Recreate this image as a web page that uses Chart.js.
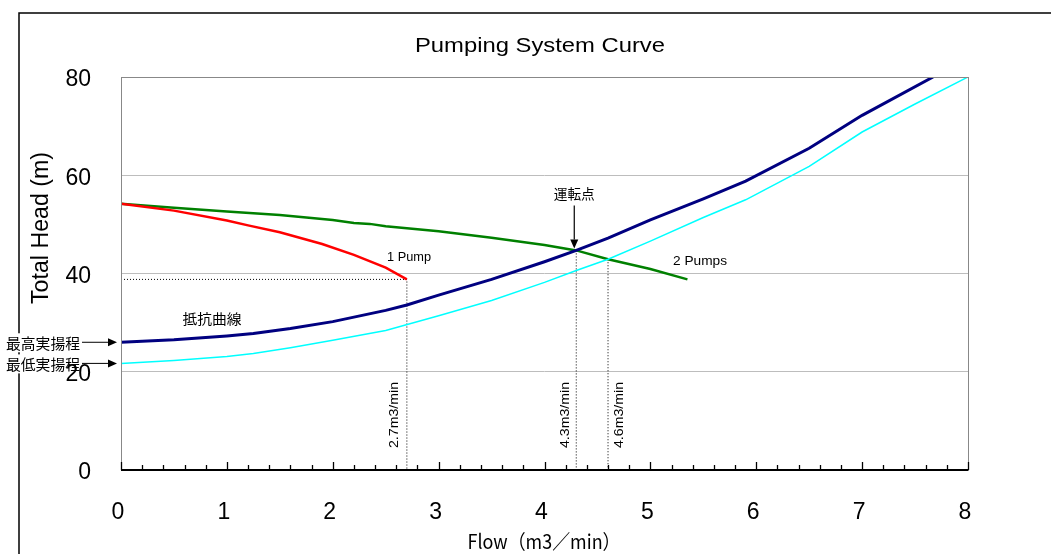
<!DOCTYPE html>
<html>
<head>
<meta charset="utf-8">
<script src="https://cdn.jsdelivr.net/npm/chart.js@4.4.1/dist/chart.umd.min.js"></script>
<style>
    html, body { margin: 0; padding: 0; background: #fff; }
    #wrap { width: 1051px; height: 554px; }
</style>
</head>
<body>
<div id="wrap"><canvas id="pumpChart" width="1051" height="554"></canvas></div>
<script>
// --- 1. DATA ---
// Pump curve, one pump running
const onePumpFlow = [0, 0.5, 1.0, 1.2, 1.5, 1.9, 2.2, 2.5, 2.7];
const onePumpHead = [54.2, 52.8, 50.8, 49.8, 48.4, 46.0, 43.8, 41.2, 38.8];

// Pump curve, two pumps in parallel
const twoPumpFlow = [0, 0.5, 1.0, 1.5, 2.0, 2.2, 2.35, 2.5, 3.0, 3.5, 4.0, 4.3, 4.6, 5.0, 5.35];
const twoPumpHead = [54.2, 53.4, 52.6, 51.9, 50.9, 50.3, 50.1, 49.6, 48.6, 47.3, 45.8, 44.7, 42.9, 40.9, 38.8];

// System (resistance) curve at highest static head
const highFlow = [0, 0.5, 1.0, 1.25, 1.6, 2.0, 2.5, 2.7, 3.0, 3.5, 4.0, 4.3, 4.6, 5.0, 5.5, 5.9, 6.5, 7.0, 7.67];
const highHead = [26.0, 26.5, 27.3, 27.8, 28.8, 30.2, 32.5, 33.6, 35.6, 38.8, 42.4, 44.7, 47.2, 50.9, 55.2, 58.8, 65.5, 72.2, 80.0];

// System curve at lowest static head
const lowFlow = [0, 0.5, 1.0, 1.25, 1.6, 2.0, 2.5, 3.0, 3.5, 4.0, 4.3, 4.6, 5.0, 5.5, 5.9, 6.5, 7.0, 7.5, 8.0];
const lowHead = [21.7, 22.3, 23.1, 23.7, 24.9, 26.4, 28.4, 31.4, 34.5, 38.2, 40.6, 42.9, 46.6, 51.4, 55.0, 61.8, 68.8, 74.5, 80.0];

// Operating points (flow, head)
const opFlow = [2.7, 4.3, 4.6];
const opHead = [38.8, 44.7, 42.9];
const opLabels = ["2.7m3/min", "4.3m3/min", "4.6m3/min"];

// Axis ticks
const flowTicks = [0, 1, 2, 3, 4, 5, 6, 7, 8];
const headTicks = [0, 20, 40, 60, 80];

const toPoints = (xs, ys) => xs.map((x, i) => ({ x: x, y: ys[i] }));

const LATIN = '"Liberation Sans", Arial, sans-serif';
const JP = '"Noto Sans CJK JP", sans-serif';

// --- 2. HELPERS ---
// draw text centred on (cx, cy), stretched horizontally to the given width
function fitText(ctx, text, cx, cy, width, font) {
    ctx.save();
    ctx.font = font;
    ctx.textAlign = 'left';
    ctx.textBaseline = 'middle';
    const w = ctx.measureText(text).width;
    ctx.translate(cx - width / 2, cy);
    ctx.scale(width / w, 1);
    ctx.fillText(text, 0, 0);
    ctx.restore();
}

function arrow(ctx, x1, y1, x2, y2) {
    const ang = Math.atan2(y2 - y1, x2 - x1);
    const len = 9, half = 4;
    const c = Math.cos(ang), s = Math.sin(ang);
    ctx.beginPath();
    ctx.moveTo(x1, y1);
    ctx.lineTo(x2 - c * len, y2 - s * len);
    ctx.stroke();
    ctx.beginPath();
    ctx.moveTo(x2, y2);
    ctx.lineTo(x2 - c * len - s * half, y2 - s * len + c * half);
    ctx.lineTo(x2 - c * len + s * half, y2 - s * len - c * half);
    ctx.closePath();
    ctx.fill();
}

// --- 3. FRAME + LABELS PLUGIN ---
const framePlugin = {
    id: 'frame',
    beforeDraw(chart) {
        const ctx = chart.ctx;
        const y = chart.scales.y;
        ctx.save();
        // outer border
        ctx.strokeStyle = '#000';
        ctx.lineWidth = 1.5;
        ctx.beginPath();
        ctx.moveTo(19, 560);
        ctx.lineTo(19, 13);
        ctx.lineTo(1060, 13);
        ctx.stroke();

        // static head labels on the left
        ctx.strokeStyle = '#000';
        ctx.lineWidth = 1;
        const leftLabels = [["最高実揚程", highHead[0]], ["最低実揚程", lowHead[0]]];
        leftLabels.forEach(([txt, h]) => {
            const py = y.getPixelForValue(h);
            ctx.fillStyle = '#fff';
            ctx.fillRect(6, py - 9, 74, 19);
            ctx.fillStyle = '#000';
            fitText(ctx, txt, 43, py + 1, 74, '14.5px ' + JP);
            arrow(ctx, 82, py, 117, py);
        });
        ctx.restore();
    },
    afterDraw(chart) {
        const ctx = chart.ctx;
        const { x, y } = chart.scales;
        const area = chart.chartArea;
        ctx.save();

        // plot frame
        ctx.strokeStyle = '#888';
        ctx.lineWidth = 1;
        ctx.strokeRect(area.left + 0.5, area.top + 0.5, area.right - area.left, area.bottom - area.top);

        // x axis line + inward ticks
        ctx.strokeStyle = '#000';
        ctx.lineWidth = 2;
        ctx.beginPath();
        ctx.moveTo(area.left, area.bottom);
        ctx.lineTo(area.right, area.bottom);
        ctx.stroke();
        ctx.lineWidth = 1.3;
        for (let i = 0; i <= 40; i++) {
            const px = Math.round(x.getPixelForValue(i * 0.2)) + 0.5;
            const len = i % 5 === 0 ? 8 : 5;
            ctx.beginPath();
            ctx.moveTo(px, area.bottom);
            ctx.lineTo(px, area.bottom - len);
            ctx.stroke();
        }

        // titles
        ctx.fillStyle = '#000';
        fitText(ctx, 'Pumping System Curve', 540, 46, 250, '20px ' + LATIN);
        fitText(ctx, 'Flow（m3／min）', 544, 541, 153, '20px ' + JP);
        ctx.save();
        ctx.translate(42, 228);
        ctx.rotate(-Math.PI / 2);
        fitText(ctx, 'Total Head (m)', 0, 0, 152, '23px ' + LATIN);
        ctx.restore();

        // curve labels
        fitText(ctx, '1 Pump', 409, 257, 44, '13px ' + LATIN);
        fitText(ctx, '2 Pumps', 700, 261, 54, '13px ' + LATIN);
        fitText(ctx, '抵抗曲線', 212, 319, 59, '14px ' + JP);

        // operating point marker
        const opX = x.getPixelForValue(opFlow[1]);
        const opY = y.getPixelForValue(opHead[1]);
        ctx.lineWidth = 1.2;
        arrow(ctx, opX - 2, opY - 45, opX - 2, opY - 2);
        fitText(ctx, '運転点', opX - 2, opY - 57, 41, '13.5px ' + JP);

        // flow labels beside dotted guides
        const side = [-12, -11, 11];
        opFlow.forEach((f, i) => {
            const px = x.getPixelForValue(f) + side[i];
            ctx.save();
            ctx.translate(px, 415);
            ctx.rotate(-Math.PI / 2);
            fitText(ctx, opLabels[i], 0, 0, 66, '13px ' + LATIN);
            ctx.restore();
        });
        ctx.restore();
    }
};

// --- 4. CHART ---
const guide = { borderColor: '#000', borderWidth: 1, borderDash: [1, 2], pointRadius: 0, tension: 0, fill: false };

new Chart(document.getElementById('pumpChart'), {
    type: 'line',
    data: {
        datasets: [
            { label: 'low', data: toPoints(lowFlow, lowHead), borderColor: '#00FFFF', borderWidth: 1.5, pointRadius: 0 },
            { label: 'high', data: toPoints(highFlow, highHead), borderColor: '#000080', borderWidth: 3, pointRadius: 0 },
            { label: '1 Pump', data: toPoints(onePumpFlow, onePumpHead), borderColor: '#FF0000', borderWidth: 2.5, pointRadius: 0 },
            { label: '2 Pumps', data: toPoints(twoPumpFlow, twoPumpHead), borderColor: '#008000', borderWidth: 2.5, pointRadius: 0 },
            { ...guide, label: 'g1', data: [{ x: 0, y: opHead[0] }, { x: opFlow[0], y: opHead[0] }, { x: opFlow[0], y: 0 }] },
            { ...guide, label: 'g2', data: [{ x: opFlow[1], y: opHead[1] }, { x: opFlow[1], y: 0 }] },
            { ...guide, label: 'g3', data: [{ x: opFlow[2], y: opHead[2] }, { x: opFlow[2], y: 0 }] }
        ]
    },
    options: {
        responsive: false,
        animation: false,
        layout: { padding: { left: 0, top: 77, right: 83, bottom: 0 } },
        plugins: { legend: { display: false }, title: { display: false }, tooltip: { enabled: false } },
        elements: { line: { tension: 0 } },
        scales: {
            x: {
                type: 'linear',
                min: 0, max: 8,
                afterBuildTicks: s => { s.ticks = flowTicks.map(v => ({ value: v })); },
                afterFit: s => { s.height = 84; },
                ticks: { color: '#000', font: { family: LATIN, size: 23 }, padding: 29, labelOffset: -3, maxRotation: 0, autoSkip: false },
                grid: { display: false, drawTicks: false },
                border: { display: false }
            },
            y: {
                min: 0, max: 80,
                afterBuildTicks: s => { s.ticks = headTicks.map(v => ({ value: v })); },
                afterFit: s => { s.width = 121; },
                ticks: { color: '#000', font: { family: LATIN, size: 23 }, padding: 30, labelOffset: 3 },
                grid: { color: '#bdbdbd', lineWidth: 1, drawTicks: false },
                border: { display: false }
            }
        }
    },
    plugins: [framePlugin]
});
</script>
</body>
</html>
